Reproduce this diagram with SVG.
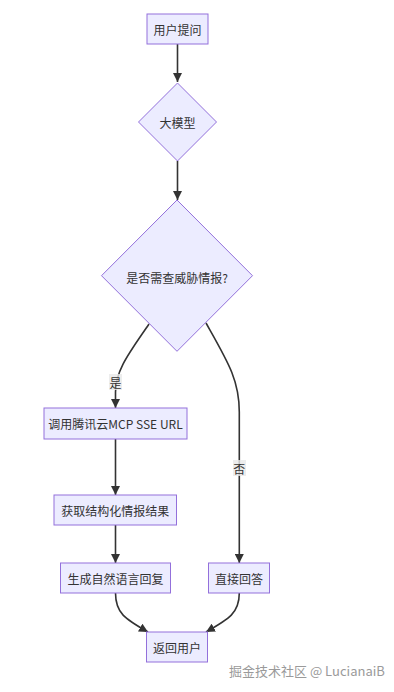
<svg xmlns="http://www.w3.org/2000/svg" width="394" height="692" viewBox="0 0 394 692">
<defs>
<marker id="arrow" viewBox="0 0 10 10" refX="10" refY="5" markerWidth="9" markerHeight="9" markerUnits="userSpaceOnUse" orient="auto">
<path d="M0,0 L10,5 L0,10 z" fill="#333"/>
</marker>
<style>
.node rect, .node polygon { fill: #ECECFF; stroke: #9370DB; stroke-width: 1; }
.node text { font-family: "Noto Sans CJK SC", "Liberation Sans", sans-serif; font-size: 12px; fill: #333; text-anchor: middle; dominant-baseline: central; }
.edge { fill: none; stroke: #333; stroke-width: 1.6; marker-end: url(#arrow); }
.elabel rect { fill: #E8E8E8; fill-opacity: 0.8; }
.elabel text { font-family: "Noto Sans CJK SC", "Liberation Sans", sans-serif; font-size: 12px; fill: #333; text-anchor: middle; dominant-baseline: central; }
.wm { font-family: "Noto Sans CJK SC", "Liberation Sans", sans-serif; font-size: 13px; fill: #9a9a9a; }
</style>
</defs>
<rect width="394" height="692" fill="#fff"/>
<g id="edges">
<path class="edge" d="M177.5,44 L177.5,82"/>
<path class="edge" d="M177.5,161 L177.5,200"/>
<path class="edge" d="M149,324 C130,352 115.5,370 115.5,392 L115.5,408"/>
<path class="edge" d="M206,323 C228,362 239.3,380 239.3,412 L239.3,563"/>
<path class="edge" d="M115.5,439 L115.5,495"/>
<path class="edge" d="M115.5,525 L115.5,563"/>
<path class="edge" d="M115.5,593 C115.5,613 125,619 148,632"/>
<path class="edge" d="M239.3,593 C239.3,613 229,619 206,632"/>
<g class="elabel" id="label-yes">
<rect x="109" y="374" width="13" height="16"/>
<text x="115.5" y="382">是</text>
</g>
<g class="elabel" id="label-no">
<rect x="233" y="460" width="13" height="16"/>
<text x="239.3" y="468">否</text>
</g>
</g>
<g class="node" id="n-ask">
<rect x="147" y="14" width="61" height="30"/>
<text x="177.5" y="29">用户提问</text>
</g>
<g class="node" id="n-llm">
<polygon points="177.5,83 216.5,122 177.5,161 138.5,122"/>
<text x="177.5" y="122">大模型</text>
</g>
<g class="node" id="n-decide">
<polygon points="177,200 252.5,275.7 177,351.3 101.5,275.7"/>
<text x="177" y="277">是否需查威胁情报?</text>
</g>
<g class="node" id="n-call">
<rect x="44" y="408" width="143" height="31"/>
<text x="115.5" y="423.5">调用腾讯云MCP SSE URL</text>
</g>
<g class="node" id="n-fetch">
<rect x="54" y="495" width="122.5" height="30"/>
<text x="115.3" y="510">获取结构化情报结果</text>
</g>
<g class="node" id="n-gen">
<rect x="60.5" y="563" width="110" height="30"/>
<text x="115.5" y="578">生成自然语言回复</text>
</g>
<g class="node" id="n-direct">
<rect x="208.5" y="563" width="61" height="30"/>
<text x="239" y="578">直接回答</text>
</g>
<g class="node" id="n-return">
<rect x="146.5" y="632" width="61" height="30"/>
<text x="177" y="647">返回用户</text>
</g>
<text class="wm" x="229" y="676">掘金技术社区 @ LucianaiB</text>
</svg>
